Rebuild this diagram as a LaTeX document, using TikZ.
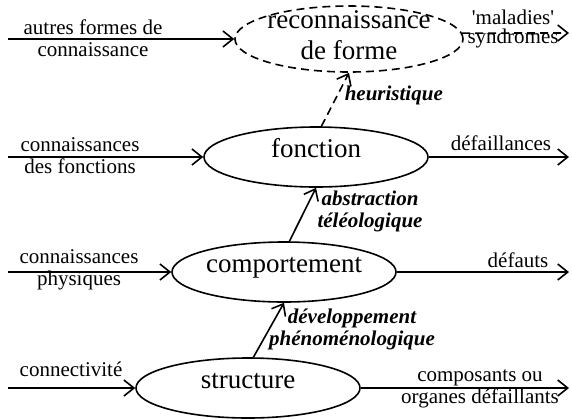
\documentclass[tikz,border=0pt]{standalone}
\usepackage{fontspec}
\setmainfont{Liberation Serif}
\usetikzlibrary{shapes.geometric,arrows.meta}
\tikzset{stage/.style={ellipse,draw,inner sep=0pt,minimum width=112pt,minimum height=30pt}}
\tikzset{hunch/.style={stage,dash pattern=on 4pt off 2.5pt,minimum width=114pt,minimum height=33pt}}
\tikzset{stagetext/.style={font=\fontsize{13.5}{15.5}\selectfont,inner sep=0pt,align=center}}
\tikzset{sidetext/.style={font=\fontsize{10.5}{11}\selectfont,inner sep=0pt,align=center}}
\tikzset{reltext/.style={font=\fontsize{10.5}{11}\selectfont\bfseries\itshape,inner sep=0pt,align=center}}
\tikzset{guessline/.style={dash pattern=on 4pt off 2.5pt}}

\begin{document}
\begin{tikzpicture}
                [x=0.5pt,y=-0.5pt,line width=0.8pt,>={Straight Barb[length=5pt,width=8pt]}]
                \useasboundingbox (0,0) rectangle (572,419);
                % the four levels
                \node [hunch] (reco)  at (349,39)  {};
                \node [stage] (fonc)  at (316,157) {};
                \node [stage] (comp)  at (284,272) {};
                \node [stage] (struc) at (248,388) {};
                
                \node [stagetext] (recot) at (349,35) {reconnaissance\\de forme};
                \node [stagetext,anchor=base] (fonct)  at (fonc.center)  {fonction};
                \node [stagetext,anchor=base] (compt)  at (comp.center)  {comportement};
                \node [stagetext,anchor=base] (struct) at (struc.center) {structure};
                
                % inputs and outputs
                \coordinate (i1) at (8,39);
                \coordinate (i2) at (8,157);
                \coordinate (i3) at (8,272);
                \coordinate (i4) at (8,388);
                \coordinate (o1) at (569,33);
                \coordinate (o2) at (569,157);
                \coordinate (o3) at (569,272);
                \coordinate (o4) at (569,388);
                
                \foreach \from/\to in {i1/reco,i2/fonc,i3/comp,i4/struc}
                \draw [->] (\from) -- (\to.west);
                
                \draw [->,guessline] (reco.3) -- (o1);
                \foreach \from/\to in {fonc/o2,comp/o3,struc/o4}
                \draw [->] (\from.east) -- (\to);
                
                % links between levels
                \draw [->,guessline] (fonc.80) -- (reco.south);
                \foreach \from/\to in {comp/fonc,struc/comp}
                \draw [->] (\from.80) -- (\to.south);
                
                \node [sidetext] (t1) at (93,38)   {autres formes de\\connaissance};
                \node [sidetext] (t2) at (80,156)  {connaissances\\des fonctions};
                \node [sidetext] (t3) at (79,270)  {connaissances\\physiques};
                \node [sidetext] (t4) at (71,369)  {connectivité};
                \node [sidetext,font=\fontsize{10.5}{9.5}\selectfont] (t5) at (513,29) {\textquotesingle maladies\textquotesingle\\syndromes};
                \node [sidetext] (t6) at (501,143) {défaillances};
                \node [sidetext] (t7) at (518,260) {défauts};
                \node [sidetext] (t8) at (480,389) {composants ou\\organes défaillants};
                
                \node [reltext,anchor=west] (r1) at (344,95) {heuristique};
                \node [reltext] (r2) at (370,211) {abstraction\\téléologique};
                \node [reltext] (r3) at (352,329) {développement\\phénoménologique};
            \end{tikzpicture}
\end{document}
